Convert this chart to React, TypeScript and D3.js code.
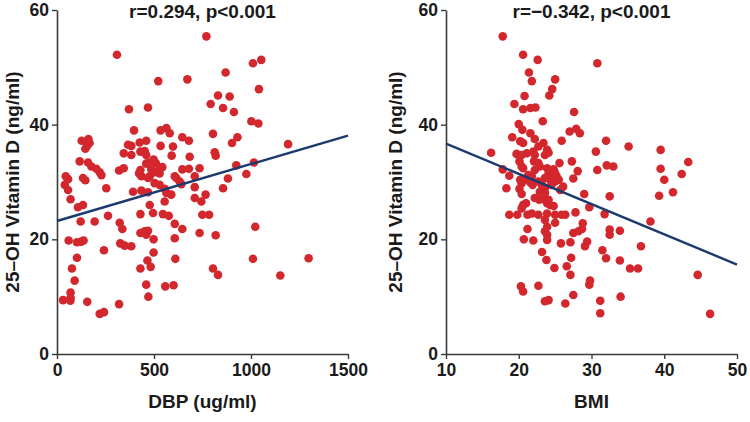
import React, { useEffect, useRef } from "react";
import * as d3 from "d3";

// DBP (ug/ml) vs 25-OH vitamin D (ng/ml)
const dbpPoints: [number, number][] = [
  [770, 55.4], [309, 52.2], [1053, 51.3], [1010, 50.7], [869, 49.1], [672, 47.9], [522, 47.6], [1041, 46.2], [830, 45.1], [890, 44.9],
  [792, 43.6], [469, 43.0], [856, 42.9], [371, 42.7], [912, 42.2], [1002, 40.6], [1038, 40.2], [564, 39.4], [397, 39.0], [534, 39.0],
  [581, 38.5], [804, 38.4], [646, 37.8], [930, 37.8], [162, 37.5], [127, 37.2], [460, 37.2], [680, 37.2], [426, 36.9], [902, 36.8],
  [168, 36.8], [1191, 36.6], [366, 36.5], [383, 36.3], [534, 36.3], [155, 36.3], [598, 36.2], [146, 35.8], [452, 35.4], [430, 35.3],
  [813, 35.2], [344, 35.0], [460, 34.7], [383, 34.7], [591, 34.6], [818, 34.6], [684, 34.4], [498, 33.9], [117, 33.6], [160, 33.4],
  [1015, 33.4], [478, 33.4], [509, 33.3], [460, 33.2], [924, 32.9], [177, 32.7], [543, 32.6], [344, 32.4], [529, 32.4], [735, 32.4],
  [203, 32.3], [680, 32.3], [646, 32.2], [486, 32.2], [430, 32.1], [320, 32.0], [220, 31.7], [507, 31.7], [423, 31.5], [529, 31.5],
  [976, 31.4], [229, 31.2], [435, 31.0], [478, 31.0], [45, 31.0], [607, 31.0], [710, 31.0], [134, 30.7], [469, 30.7], [615, 30.7],
  [881, 30.6], [57, 30.5], [146, 30.3], [641, 29.6], [632, 30.1], [503, 29.8], [40, 29.5], [529, 29.5], [710, 29.1], [254, 28.9],
  [57, 28.6], [856, 28.9], [555, 28.8], [392, 28.3], [435, 28.5], [469, 28.2], [564, 28.1], [589, 27.8], [766, 27.8], [70, 27.0],
  [710, 27.2], [555, 26.6], [744, 26.6], [134, 26.0], [478, 26.0], [108, 25.6], [495, 24.6], [430, 24.4], [546, 24.4], [749, 24.3],
  [784, 24.3], [576, 24.1], [263, 24.1], [122, 23.1], [194, 23.1], [323, 22.9], [607, 22.7], [1022, 22.2], [337, 21.8], [646, 21.8],
  [452, 21.4], [469, 21.5], [430, 21.1], [735, 21.1], [460, 20.8], [818, 20.7], [498, 20.0], [607, 20.2], [60, 19.8], [137, 19.8],
  [125, 19.6], [103, 19.5], [326, 19.3], [349, 18.9], [383, 18.8], [242, 18.1], [498, 17.7], [103, 16.8], [1010, 16.6], [1297, 16.7],
  [610, 16.6], [466, 16.3], [483, 15.2], [430, 14.9], [77, 14.9], [804, 14.9], [830, 13.8], [1151, 13.7], [91, 12.8], [460, 12.1],
  [558, 11.8], [601, 12.0], [70, 10.7], [70, 9.8], [471, 10.0], [31, 9.4], [69, 9.3], [156, 9.1], [320, 8.7], [220, 7.0], [242, 7.3]
];

// BMI vs 25-OH vitamin D (ng/ml)
const bmiPoints: [number, number][] = [
  [17.8, 55.4], [20.6, 52.2], [22.6, 51.3], [30.8, 50.7], [21.4, 49.1], [21.8, 47.6], [25.0, 47.9], [24.6, 46.2], [24.2, 45.1], [20.8, 45.0],
  [19.4, 43.6], [20.6, 42.7], [21.6, 42.9], [22.3, 43.0], [27.6, 42.2], [23.3, 40.6], [20.0, 40.1], [20.5, 39.1], [21.6, 38.5], [27.0, 38.8],
  [27.9, 39.3], [28.4, 38.5], [19.1, 37.8], [20.2, 37.1], [20.6, 36.8], [22.2, 37.5], [23.4, 36.8], [25.9, 37.2], [32.0, 37.2], [22.7, 36.2],
  [35.1, 36.2], [39.5, 35.6], [23.9, 35.6], [16.2, 35.1], [19.7, 34.9], [20.4, 34.7], [21.1, 35.0], [22.2, 34.7], [22.0, 35.3], [23.6, 34.7],
  [24.1, 35.1], [30.6, 35.3], [20.1, 33.6], [20.4, 32.7], [22.1, 33.6], [22.7, 33.3], [25.6, 33.3], [27.3, 33.6], [32.1, 32.9], [33.0, 32.7],
  [43.3, 33.5], [17.8, 32.2], [20.6, 32.4], [22.2, 32.1], [22.9, 32.7], [23.9, 32.4], [24.3, 32.0], [24.8, 32.2], [28.1, 31.9], [30.8, 32.1],
  [39.5, 32.3], [42.4, 31.4], [18.7, 31.1], [21.3, 31.2], [21.8, 31.0], [24.1, 31.5], [24.5, 31.2], [25.0, 31.5], [25.2, 31.0], [23.6, 30.7],
  [27.5, 30.6], [40.0, 30.4], [20.2, 30.4], [20.9, 30.4], [24.3, 30.4], [25.0, 30.1], [25.5, 30.4], [20.4, 29.8], [21.6, 29.9], [21.9, 29.5],
  [22.7, 30.1], [23.2, 29.5], [23.6, 29.0], [24.5, 29.5], [18.3, 28.9], [20.1, 28.8], [26.1, 29.2], [23.2, 28.6], [22.9, 28.3], [23.6, 28.1],
  [25.7, 28.6], [20.4, 27.9], [29.0, 27.9], [41.2, 28.2], [39.3, 27.6], [22.2, 27.2], [22.8, 26.9], [23.4, 27.0], [24.1, 26.9], [32.5, 27.5],
  [23.9, 26.3], [24.3, 26.0], [24.8, 25.8], [20.6, 26.0], [21.0, 26.3], [20.4, 25.4], [29.7, 25.6], [18.7, 24.3], [19.8, 24.3], [21.2, 24.3],
  [21.8, 24.5], [22.7, 24.3], [23.9, 24.5], [25.0, 24.3], [25.9, 24.3], [26.4, 24.3], [27.8, 24.7], [31.8, 24.4], [23.6, 23.4], [25.0, 22.9],
  [23.9, 22.2], [21.2, 21.8], [23.6, 21.4], [23.9, 20.8], [28.8, 22.8], [28.7, 21.8], [28.2, 21.4], [27.5, 21.1], [32.5, 21.7], [32.5, 20.8],
  [33.9, 21.5], [38.1, 23.1], [20.7, 20.0], [22.0, 19.8], [23.9, 19.9], [25.8, 19.3], [27.1, 19.5], [29.4, 19.6], [29.1, 18.8], [36.8, 18.8],
  [31.5, 18.1], [23.2, 17.8], [32.0, 16.7], [27.2, 16.8], [23.8, 16.4], [33.9, 16.3], [24.9, 15.0], [26.6, 15.3], [27.1, 13.8], [35.3, 14.9],
  [36.4, 14.9], [44.6, 13.8], [29.8, 12.8], [29.7, 12.1], [20.3, 11.8], [20.6, 10.9], [22.7, 11.9], [27.5, 10.3], [34.0, 10.0], [23.6, 9.2],
  [24.1, 9.4], [26.4, 8.8], [31.2, 9.3], [31.2, 7.1], [46.3, 7.0]
];

// regression line end points
const dbpFit: [number, number][] = [[0, 23.2], [1500, 38.1]];
const bmiFit: [number, number][] = [[10, 36.7], [50, 15.6]];

const dbpTicks = [0, 500, 1000, 1500];
const bmiTicks = [10, 20, 30, 40, 50];
const vitDTicks = [0, 20, 40, 60];

const titles = ["r=0.294, p<0.001", "r=\u22120.342, p<0.001"];
const xLabels = ["DBP (ug/ml)", "BMI"];
const yLabel = "25\u2013OH Vitamin D (ng/ml)";

const WIDTH = 750;
const HEIGHT = 422;
const TOP = 10;
const BOTTOM = 354;
const FONT = "'Liberation Sans', Arial, Helvetica, sans-serif";
const DOT = "#d3272e";
const LINE = "#1c3a6e";
const AXIS = "#3a3a3a";

const panels = [
  { left: 57, right: 348, domain: [0, 1500], ticks: dbpTicks, points: dbpPoints, fit: dbpFit, title: titles[0], xLabel: xLabels[0], yTitleX: 19 },
  { left: 446, right: 737, domain: [10, 50], ticks: bmiTicks, points: bmiPoints, fit: bmiFit, title: titles[1], xLabel: xLabels[1], yTitleX: 402 }
];

export default function App() {
  const ref = useRef<SVGSVGElement>(null);

  useEffect(() => {
    const svg = d3.select(ref.current);
    svg.selectAll("*").remove();

    const y = d3.scaleLinear().domain([0, 60]).range([BOTTOM, TOP]);

    panels.forEach((p) => {
      const x = d3.scaleLinear().domain(p.domain).range([p.left, p.right]);
      const g = svg.append("g");

      const xAxis = g
        .append("g")
        .attr("transform", `translate(0, ${BOTTOM})`)
        .call(
          d3.axisBottom(x).tickValues(p.ticks).tickFormat(d3.format("d")).tickSize(5).tickSizeOuter(0).tickPadding(5)
        );
      const yAxis = g
        .append("g")
        .attr("transform", `translate(${p.left}, 0)`)
        .call(d3.axisLeft(y).tickValues(vitDTicks).tickFormat(d3.format("d")).tickSize(5).tickSizeOuter(0).tickPadding(3));

      [xAxis, yAxis].forEach((a) => {
        a.select(".domain").attr("stroke", AXIS).attr("stroke-width", 1.6);
        a.selectAll(".tick line").attr("stroke", AXIS).attr("stroke-width", 1.4);
        a.selectAll(".tick text")
          .attr("fill", "#1a1a1a")
          .style("font-family", FONT)
          .style("font-weight", "bold")
          .style("font-size", "17.5px");
      });

      g.append("g")
        .selectAll("circle")
        .data(p.points)
        .enter()
        .append("circle")
        .attr("cx", (d) => x(d[0]))
        .attr("cy", (d) => y(d[1]))
        .attr("r", 4.3)
        .attr("fill", DOT);

      const line = d3
        .line<[number, number]>()
        .x((d) => x(d[0]))
        .y((d) => y(d[1]));
      g.append("path")
        .attr("d", line(p.fit))
        .attr("fill", "none")
        .attr("stroke", LINE)
        .attr("stroke-width", 2.4);

      const text = (sel: any) =>
        sel
          .attr("fill", "#1a1a1a")
          .attr("text-anchor", "middle")
          .style("font-family", FONT)
          .style("font-weight", "bold")
          .style("font-size", "19px");

      g.append("text")
        .attr("x", (p.left + p.right) / 2)
        .attr("y", 18)
        .text(p.title)
        .call(text);

      g.append("text")
        .attr("x", (p.left + p.right) / 2)
        .attr("y", 408)
        .text(p.xLabel)
        .call(text);

      g.append("text")
        .attr("transform", `translate(${p.yTitleX}, ${(TOP + BOTTOM) / 2}) rotate(-90)`)
        .text(yLabel)
        .call(text);
    });
  }, []);

  return (
    <svg
      ref={ref}
      width={WIDTH}
      height={HEIGHT}
      style={{ position: "absolute", left: 0, top: 0, background: "#fff", overflow: "visible" }}
    />
  );
}
